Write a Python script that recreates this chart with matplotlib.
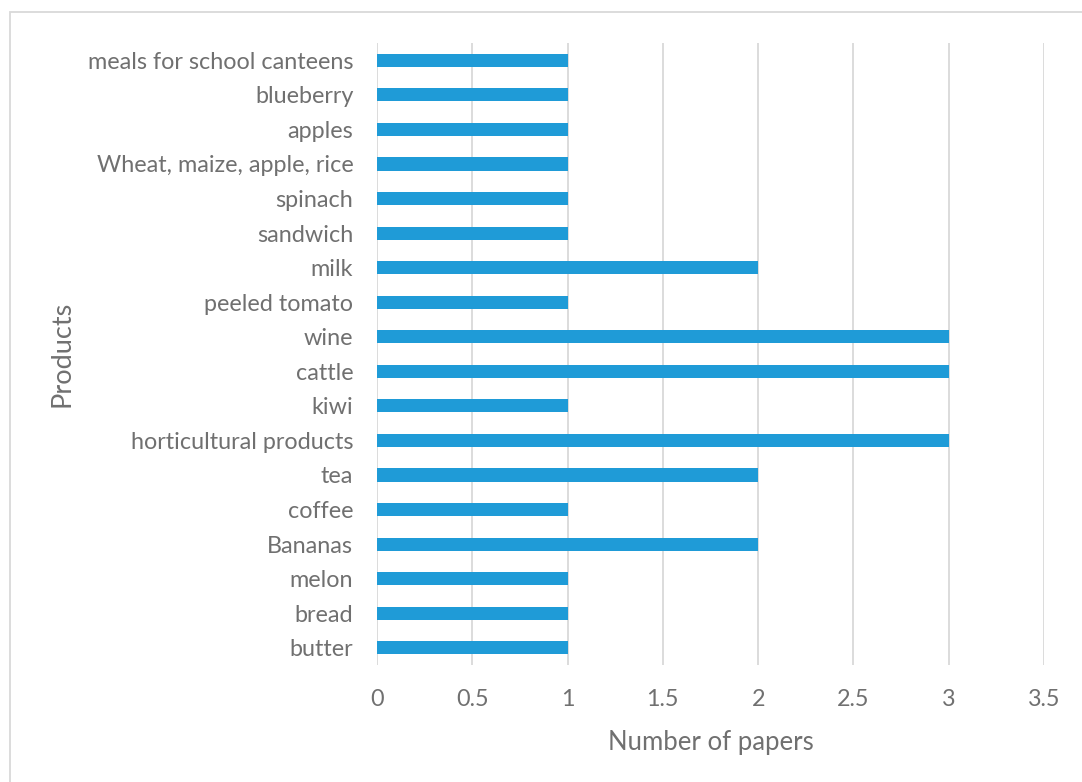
import matplotlib.pyplot as plt
from matplotlib.patches import Rectangle

products = ['butter', 'bread', 'melon', 'Bananas', 'coffee', 'tea',
            'horticultural products', 'kiwi', 'cattle', 'wine', 'peeled tomato',
            'milk', 'sandwich', 'spinach', 'Wheat, maize, apple, rice',
            'apples', 'blueberry', 'meals for school canteens']
papers = [1, 1, 1, 2, 1, 2, 3, 1, 3, 3, 1, 2, 1, 1, 1, 1, 1, 1]
xticks = [0, 0.5, 1, 1.5, 2, 2.5, 3, 3.5]

plt.rcParams['font.family'] = ['Lato', 'DejaVu Sans']
grey = '#707070'

fig = plt.figure(figsize=(10.82, 7.82), dpi=100)
ax = fig.add_axes([0.3484, 0.1496, 0.6165, 0.7954])

ax.barh(range(len(products)), papers, height=0.38, color='#1F9BD7', zorder=3)

ax.set_xlim(0, 3.5)
ax.set_ylim(-0.5, len(products) - 0.5)
ax.set_xticks(xticks)
ax.set_xticklabels([f'{t:g}' for t in xticks])
ax.set_yticks(range(len(products)))
ax.set_yticklabels(products)
ax.tick_params(axis='both', length=0, labelsize=16.8, colors=grey)
ax.tick_params(axis='x', pad=17)
ax.tick_params(axis='y', pad=17)

ax.grid(axis='x', color='#d9d9d9', linewidth=1.3, zorder=0)
for s in ax.spines.values():
    s.set_visible(False)

ax.set_xlabel('Number of papers', fontsize=18.5, color=grey, labelpad=15)
ax.set_ylabel('Products', fontsize=19.5, color=grey, labelpad=9.5)

# chart frame, cut off at the right and bottom like the original
fig.patches.append(Rectangle((10 / 1082, -0.05), 1.2, 1 - 12 / 782 + 0.05,
                             transform=fig.transFigure, fill=False,
                             edgecolor='#d9d9d9', linewidth=1.3))

fig.savefig('out.png', dpi=100)
